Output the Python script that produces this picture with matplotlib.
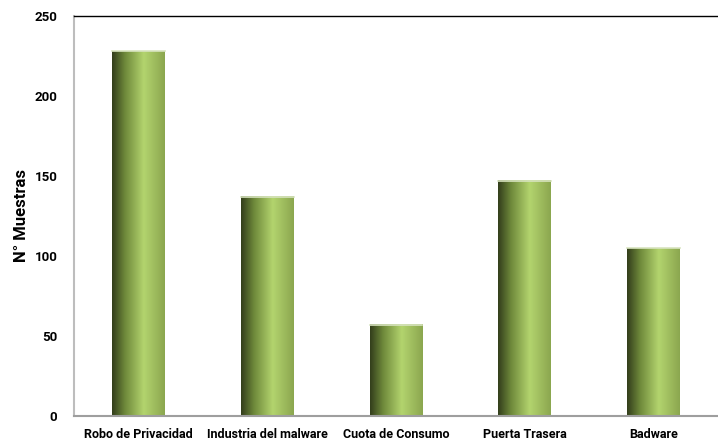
import numpy as np
import matplotlib.pyplot as plt
from matplotlib.colors import LinearSegmentedColormap

categorias = ['Robo de Privacidad', 'Industria del malware', 'Cuota de Consumo',
              'Puerta Trasera', 'Badware']
muestras = [228, 137, 57, 147, 105]
yticks = [0, 50, 100, 150, 200, 250]

# horizontal shading across each bar: dark edge -> light green -> slightly darker
verde = LinearSegmentedColormap.from_list(
    'verde', [(0.0, '#323d1b'), (0.25, '#6f8a3b'), (0.6, '#b3d46e'), (1.0, '#8ba64f')])
grad = np.linspace(0, 1, 256).reshape(1, -1)

fig = plt.figure(figsize=(7.18, 4.41), dpi=100)
ax = fig.add_axes([74 / 718, 25 / 441, 644 / 718, 400 / 441])

ancho = 0.41
barras = ax.bar(range(len(categorias)), muestras, width=ancho, color='none', edgecolor='none')
for b in barras:
    x0 = b.get_x()
    h = b.get_height()
    ax.imshow(grad, cmap=verde, aspect='auto', extent=[x0, x0 + ancho, 0, h],
              zorder=2, interpolation='bicubic')
    # thin pale cap on top
    ax.plot([x0, x0 + ancho], [h, h], color='#d8e4c0', lw=1.2, zorder=3)

ax.set_xlim(-0.5, len(categorias) - 0.5)
ax.set_ylim(0, 250)
ax.set_yticks(yticks)
ax.set_xticks(range(len(categorias)))
ax.set_xticklabels(categorias, fontsize=9, fontweight='bold', family='Roboto')
for t in ax.get_yticklabels():
    t.set_fontsize(9.5)
    t.set_fontweight('bold')
    t.set_family('Roboto')
ax.tick_params(length=0, pad=9)
ax.tick_params(axis='y', pad=12)

ax.set_ylabel('N° Muestras', fontsize=12, fontweight='bold', family='Roboto', labelpad=4)

ax.spines['top'].set_color('black')
ax.spines['top'].set_linewidth(1.0)
ax.spines['left'].set_color('#bdbdbd')
ax.spines['bottom'].set_color('#9e9e9e')
ax.spines['left'].set_linewidth(1.5)
ax.spines['bottom'].set_linewidth(1.5)
ax.spines['right'].set_visible(False)

fig.savefig('out.png', dpi=100)
